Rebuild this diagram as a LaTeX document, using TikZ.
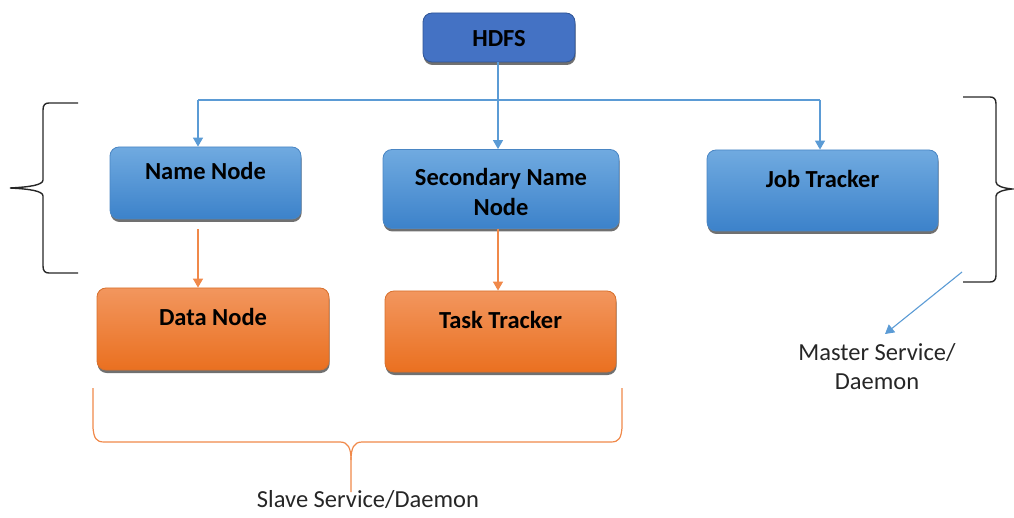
\documentclass[tikz,border=0pt]{standalone}
\usepackage{fontspec}
\setmainfont{Carlito}
\usetikzlibrary{arrows.meta,shadows}

\definecolor{hdfsfill}{HTML}{4472C4}
\definecolor{hdfsedge}{HTML}{2F5597}
\definecolor{bluetop}{HTML}{70AAE0}
\definecolor{bluebot}{HTML}{3C82CA}
\definecolor{blueedge}{HTML}{4A86C4}
\definecolor{orangetop}{HTML}{F2965E}
\definecolor{orangebot}{HTML}{EA7020}
\definecolor{orangeedge}{HTML}{D8702C}
\definecolor{linkblue}{HTML}{5B9BD5}
\definecolor{linkorange}{HTML}{F0894A}

\tikzset{
  boxbase/.style={rounded corners=9pt, line width=0.8pt, font=\bfseries\fontsize{24.5}{30}\selectfont,
    align=center, inner sep=0pt,
    drop shadow={shadow xshift=0.6pt, shadow yshift=-3pt, fill=black!75, opacity=0.75}},
  hdfsbox/.style={boxbase, draw=hdfsedge, fill=hdfsfill},
  bluebox/.style={boxbase, draw=blueedge, top color=bluetop, bottom color=bluebot},
  orangebox/.style={boxbase, draw=orangeedge, top color=orangetop, bottom color=orangebot},
  raised/.style={text height=12pt, text depth=18pt},
  blueline/.style={draw=linkblue, line width=1.3pt},
  orangeline/.style={draw=linkorange, line width=1.3pt},
  tipb/.style={-{Triangle[width=10pt,length=9pt]}},
  bracket/.style={draw=black!85, line width=1.4pt},
  caption/.style={font=\fontsize{24.5}{29}\selectfont, align=center, text=black!85}
}

\begin{document}
\begin{tikzpicture}[x=1pt, y=-1pt]
\useasboundingbox (0,0) rectangle (1014,518);

% boxes
\node[hdfsbox, text height=20pt, text depth=2pt, minimum width=152pt, minimum height=49pt] (hdfs) at (499,37.5) {HDFS};
\node[bluebox, raised, minimum width=191pt, minimum height=72pt] (name) at (205.5,183) {Name Node};
\node[bluebox, text depth=0pt, minimum width=236pt, minimum height=79pt] (sec) at (501,189) {\rule{0pt}{24pt}Secondary Name\\Node};
\node[bluebox, raised, minimum width=231pt, minimum height=81pt] (job) at (822.5,190.5) {Job Tracker};
\node[orangebox, raised, minimum width=232pt, minimum height=82pt] (data) at (213,329) {Data Node};
\node[orangebox, raised, minimum width=231pt, minimum height=81pt] (task) at (500.5,331.5) {Task Tracker};

% distribution bus below HDFS
\coordinate (busL) at (198,100);
\coordinate (busM) at (498,100);
\coordinate (busR) at (820,100);
\draw[blueline] (busL) -- (busR);
\draw[blueline] (busM |- hdfs.south) -- (busM);
\draw[blueline, tipb] (busM) -- (busM |- sec.north);
\draw[blueline, tipb] (busL) -- (busL |- name.north);
\draw[blueline, tipb] (busR) -- (busR |- job.north);

% master to slave links
\draw[orangeline, tipb, shorten <=10pt] (busL |- name.south) -- (busL |- data.north);
\draw[orangeline, tipb] (busM |- sec.south) -- (busM |- task.north);

% left curly bracket
\draw[bracket] (78,103) -- (49,103) .. controls (45,103) and (43,105) .. (43,110)
  -- (43,180) .. controls (43,185) and (30,187) .. (10,188)
  .. controls (30,189) and (43,191) .. (43,196)
  -- (43,266) .. controls (43,271) and (45,273) .. (49,273) -- (78,273);

% right curly bracket
\draw[bracket] (963,97) -- (990,97) .. controls (994,97) and (996,99) .. (996,104)
  -- (996,182) .. controls (996,186) and (1003,188) .. (1012,189)
  .. controls (1003,190) and (996,192) .. (996,196)
  -- (996,275) .. controls (996,280) and (994,282) .. (990,282) -- (963,282);

% master caption and its pointer
\coordinate (mstart) at (962,272);
\coordinate (mend) at (885,334);
\draw[blueline, line width=1.1pt, tipb] (mstart) -- (mend);
\node[caption] (master) at (877,367) {Master Service/\\Daemon};

% slave bracket
\draw[orangeline, line width=1.2pt] (93,388) -- (93,428) .. controls (94,438) and (96,442) .. (104,442)
  -- (340,442) .. controls (348,442) and (351,448) .. (351,460) -- (351,492);
\draw[orangeline, line width=1.2pt] (351,460) .. controls (351,448) and (354,442) .. (362,442)
  -- (611,442) .. controls (619,442) and (621,438) .. (622,428) -- (622,388);
\node[caption] (slave) at (368,500) {Slave Service/Daemon};
\end{tikzpicture}
\end{document}
